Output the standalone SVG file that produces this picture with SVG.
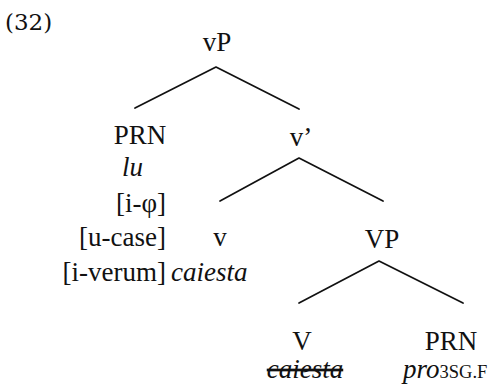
<svg xmlns="http://www.w3.org/2000/svg" width="494" height="392" viewBox="0 0 494 392">
<style>
text{font-family:'Liberation Serif','DejaVu Serif',serif;font-size:27px;fill:#111}
.m{text-anchor:middle}
.e{text-anchor:end}
.i{font-style:italic}
.num{font-family:'DejaVu Serif',serif;font-size:23px}
.sub{font-size:18.5px;font-style:normal}
.edge{stroke:#111;stroke-width:1.7;fill:none;stroke-linecap:round;stroke-linejoin:round}
</style>
<rect width="494" height="392" fill="#fff"/>
<text class="num" x="5" y="30">(32)</text>
<g id="connectors">
<polyline class="edge" points="135,108 216,67 299,109"/>
<polyline class="edge" points="220,201 299,158 383,201"/>
<polyline class="edge" points="299,303 379,261 463,303"/>
</g>
<g id="vP"><text class="m" x="217" y="51">vP</text></g>
<g id="PRN1">
<text class="m" x="140" y="144">PRN</text>
<text class="i" x="122" y="176">lu</text>
<text class="e" x="166" y="212">[i-φ]</text>
<text class="e" x="166" y="246">[u-case]</text>
<text class="e" x="166" y="281">[i-verum]</text>
</g>
<g id="vbar"><text class="m" x="301" y="146">v’</text></g>
<g id="v">
<text class="m" x="220" y="246">v</text>
<text class="i" x="171" y="281">caiesta</text>
</g>
<g id="VP"><text class="m" x="382" y="248">VP</text></g>
<g id="V">
<text class="m" x="302" y="350">V</text>
<text class="m i" x="305" y="378" style="text-decoration:line-through">caiesta</text>
</g>
<g id="PRN2">
<text class="m" x="451" y="350">PRN</text>
<text class="i" x="403" y="378">pro<tspan class="sub">3SG.F</tspan></text>
</g>
</svg>
